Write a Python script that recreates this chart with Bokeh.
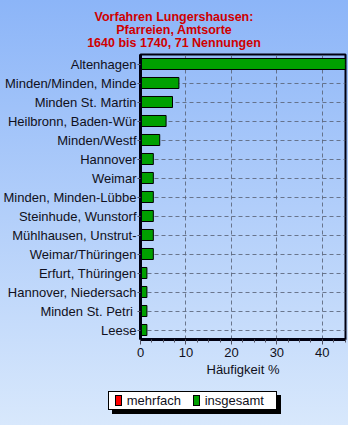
from bokeh.plotting import figure
from bokeh.layouts import column
from bokeh.models import (Range1d, FactorRange, FixedTicker, ColumnDataSource, Div)
from bokeh.embed import file_html
from bokeh.resources import INLINE

categories = ["Altenhagen", "Minden/Minden, Minde", "Minden St. Martin", "Heilbronn, Baden-Wür",
              "Minden/Westf", "Hannover", "Weimar", "Minden, Minden-Lübbe", "Steinhude, Wunstorf",
              "Mühlhausen, Unstrut-", "Weimar/Thüringen", "Erfurt, Thüringen", "Hannover, Niedersach",
              "Minden  St. Petri", "Leese"]
insgesamt = [45.07, 8.45, 7.04, 5.63, 4.23, 2.82, 2.82, 2.82, 2.82, 2.82, 2.82, 1.41, 1.41, 1.41, 1.41]
mehrfach = [0] * 15
x_ticks = [0, 10, 20, 30, 40]
title_lines = ["Vorfahren Lungershausen:", "Pfarreien, Amtsorte", "1640 bis 1740, 71 Nennungen"]
x_label = "Häufigkeit %"
series_names = ["mehrfach", "insgesamt"]
series_colors = ["#ff0000", "#00a000"]

FONT = "Liberation Sans"
W = 348
TITLE_H, MAIN_H, LEG_H = 50, 329, 46
TXT = "#101020"

# ---------- title ----------
title = Div(text="<br>".join(title_lines), width=W, height=TITLE_H, margin=(0, 0, 0, 0),
            styles={"text-align": "center", "color": "#d00000", "font-family": FONT,
                    "font-weight": "bold", "font-size": "12.5px", "line-height": "13px",
                    "padding-top": "11px", "box-sizing": "border-box", "width": f"{W}px"})

# ---------- main chart ----------
src = ColumnDataSource(dict(cat=categories, ins=insgesamt, meh=mehrfach))

p = figure(width=W, height=MAIN_H, output_backend="svg", toolbar_location=None,
           y_range=FactorRange(*reversed(categories)), x_range=Range1d(0, 45.1),
           min_border_left=140, min_border_right=3, min_border_top=4, min_border_bottom=40,
           margin=(0, 0, 0, 0))
p.border_fill_alpha = 0
p.background_fill_alpha = 0
p.outline_line_color = "#000010"
p.outline_line_width = 2

for g in (p.xgrid, p.ygrid):
    g.grid_line_color = "#5a6478"
    g.grid_line_dash = "4 3"
    g.grid_line_alpha = 0.85

p.hbar(y="cat", right="ins", left=0, height=0.58, source=src,
       fill_color=series_colors[1], line_color="black", line_width=1)
p.hbar(y="cat", right="meh", left=0, height=0.58, source=src,
       fill_color=series_colors[0], line_color="black", line_width=1)

xa = p.xaxis[0]
xa.ticker = FixedTicker(ticks=x_ticks, minor_ticks=[i * 2.5 for i in range(19)])
xa.axis_label = x_label
xa.axis_label_text_font = FONT
xa.axis_label_text_font_size = "13px"
xa.axis_label_text_font_style = "normal"
xa.axis_label_text_color = TXT
xa.axis_label_standoff = 2
xa.major_label_text_font = FONT
xa.major_label_text_font_size = "13px"
xa.major_label_text_color = TXT
xa.major_label_standoff = 3
xa.axis_line_width = 3
xa.axis_line_color = "#000010"
xa.major_tick_out = 5
xa.major_tick_in = 0
xa.minor_tick_out = 3
xa.minor_tick_in = 0
xa.major_tick_line_color = "#505060"
xa.minor_tick_line_color = "#505060"

ya = p.yaxis[0]
ya.major_label_text_font = FONT
ya.major_label_text_font_size = "13px"
ya.major_label_text_color = TXT
ya.axis_line_width = 3
ya.axis_line_color = "#000010"
ya.major_tick_out = 3
ya.major_tick_in = 0
ya.major_label_standoff = 1
ya.major_tick_line_color = "#505060"

# ---------- legend (HTML box with drop shadow) ----------
def swatch(color):
    return (f'<span style="display:inline-block;width:8px;height:11px;box-sizing:border-box;'
            f'background:{color};border:1px solid black;"></span>')

items_html = "".join(
    f'{swatch(c)}<span style="margin-left:5px;margin-right:12px;">{n}</span>'
    for n, c in zip(series_names, series_colors))
legend_html = (f'<div style="display:flex;align-items:center;width:169px;height:19px;'
               f'box-sizing:border-box;background:white;border:1px solid black;'
               f'box-shadow:4px 4px 0 black;padding-left:6px;font-family:{FONT};'
               f'font-size:13px;color:{TXT};line-height:17px;">{items_html}</div>')
legend = Div(text=legend_html, width=W, height=LEG_H, margin=(0, 0, 0, 0),
             styles={"padding-left": "108px", "padding-top": "12px",
                     "box-sizing": "border-box", "width": f"{W}px"})

layout = column(title, p, legend, spacing=0, width=W,
                styles={"background": "linear-gradient(to bottom, #8cb5f8, #d8e8fc)"})

open("out.html", "w").write(file_html(layout, INLINE))
